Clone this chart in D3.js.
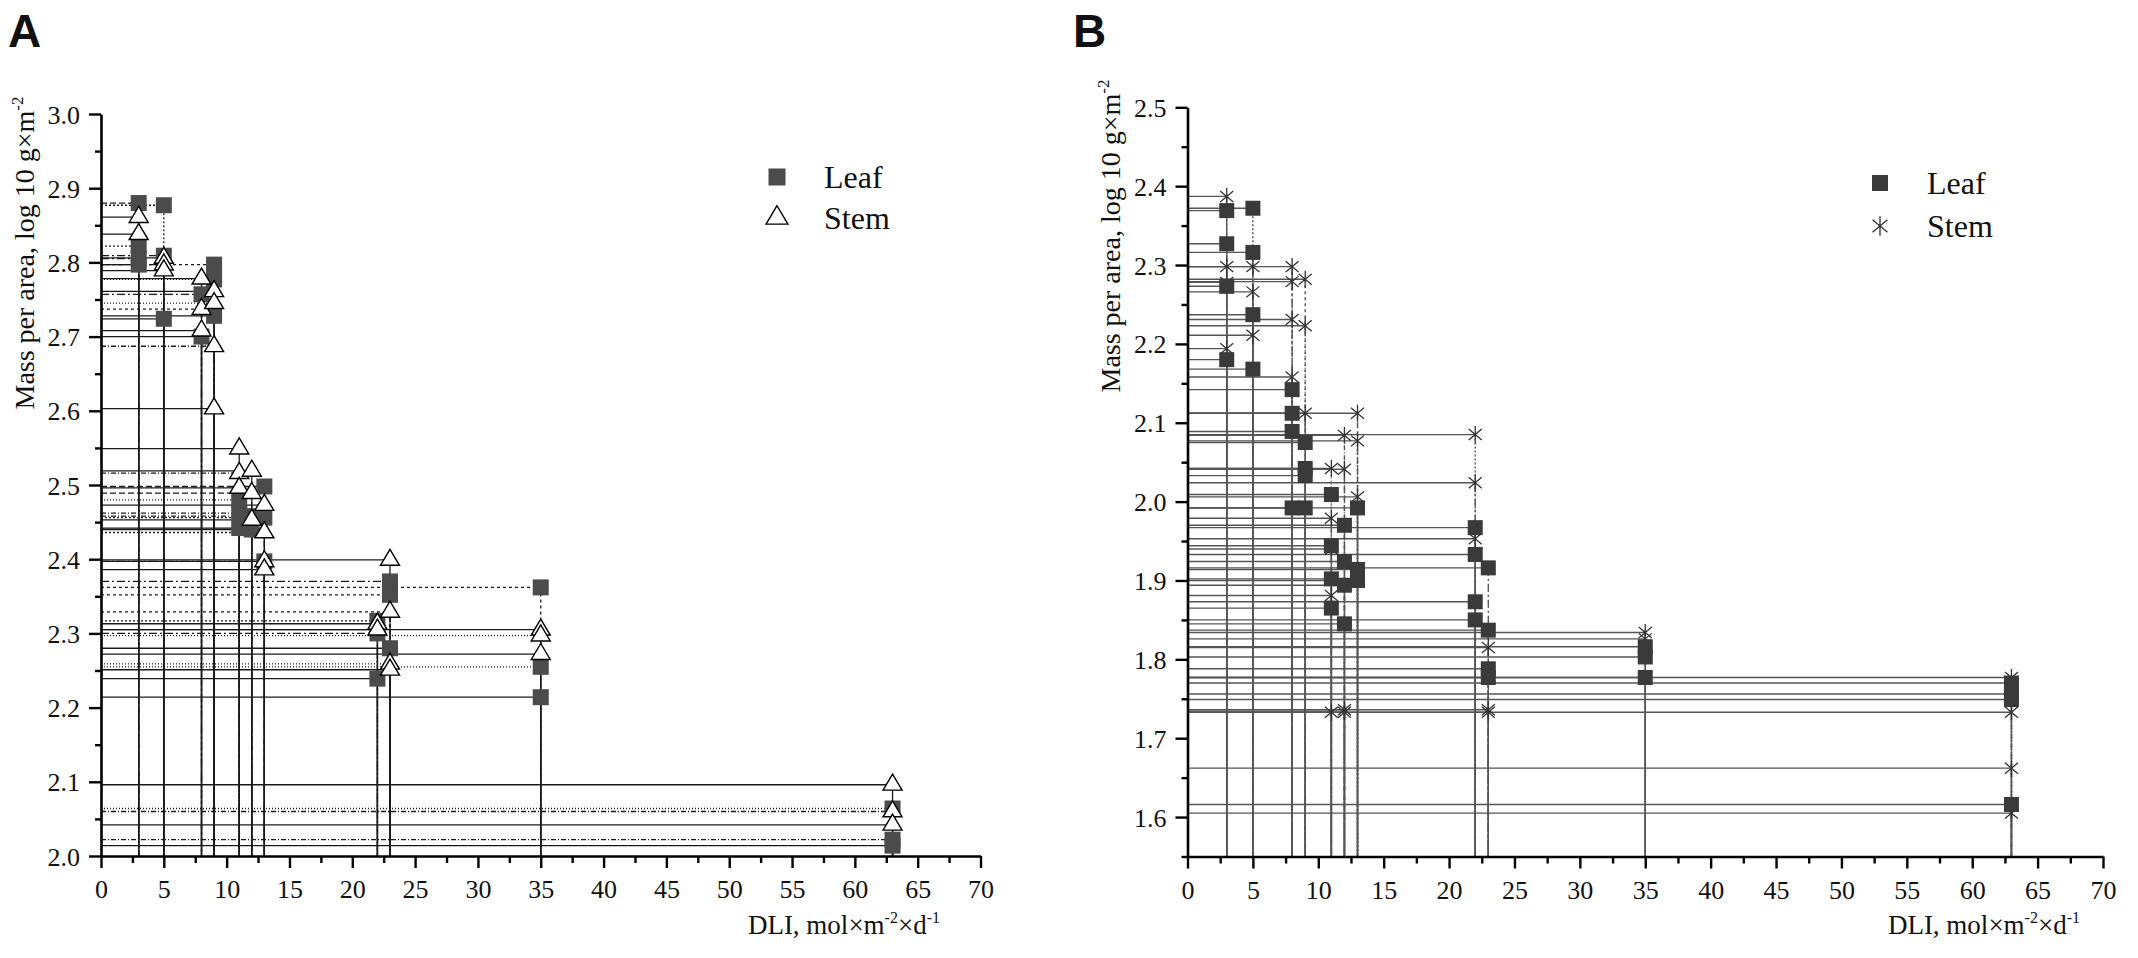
<!DOCTYPE html>
<html><head><meta charset="utf-8">
<script src="https://cdn.jsdelivr.net/npm/d3@7"></script>
<style>
body{margin:0;background:#fff}
svg{display:block}
text{font-family:"Liberation Serif","Times New Roman",serif;fill:#111}
</style>
</head><body>
<svg id="c" width="2138" height="958"></svg>
<script>
// ---------- data ----------
const dli = [3, 5, 8, 9, 11, 12, 13, 22, 23, 35, 63];
const xTickValues = d3.range(0, 71, 5);

// Panel A (log10 g/m2)
const leafA = [
  [2.880, 2.822, 2.805, 2.797],
  [2.877, 2.809, 2.724],
  [2.757, 2.700],
  [2.797, 2.777, 2.728],
  [2.480, 2.462, 2.442],
  [2.458, 2.440],
  [2.498, 2.456, 2.397],
  [2.317, 2.300, 2.239],
  [2.370, 2.352, 2.280],
  [2.362, 2.255, 2.214],
  [2.064, 2.022, 2.014]
];
const stemA = [
  [2.861, 2.838],
  [2.806, 2.797, 2.789],
  [2.778, 2.737, 2.708],
  [2.761, 2.745, 2.687, 2.603],
  [2.549, 2.516, 2.496],
  [2.519, 2.489, 2.453],
  [2.473, 2.436, 2.397, 2.386],
  [2.313, 2.305],
  [2.399, 2.329, 2.259, 2.251],
  [2.305, 2.297, 2.272],
  [2.096, 2.060, 2.042]
];
const yTicksA = [2.0, 2.1, 2.2, 2.3, 2.4, 2.5, 2.6, 2.7, 2.8, 2.9, 3.0];

// Panel B
const leafB = [
  [2.369, 2.327, 2.273, 2.180],
  [2.372, 2.316, 2.237, 2.168],
  [2.142, 2.112, 2.089, 1.992],
  [2.075, 2.042, 2.033, 1.992],
  [2.009, 1.944, 1.902, 1.865],
  [1.970, 1.924, 1.894, 1.845],
  [1.992, 1.914, 1.900],
  [1.967, 1.933, 1.873, 1.850],
  [1.916, 1.837, 1.788, 1.777],
  [1.816, 1.803, 1.777],
  [1.770, 1.756, 1.749, 1.616]
];
const stemB = [
  [2.387, 2.298, 2.278, 2.194],
  [2.298, 2.266, 2.211],
  [2.298, 2.279, 2.231, 2.158],
  [2.282, 2.223, 2.112],
  [2.042, 1.979, 1.940, 1.881, 1.733],
  [2.084, 2.041, 1.736, 1.733],
  [2.112, 2.077, 2.006],
  [2.085, 2.024, 1.953],
  [1.815, 1.736, 1.733],
  [1.834, 1.826],
  [1.777, 1.733, 1.662, 1.605]
];
const yTicksB = [1.6, 1.7, 1.8, 1.9, 2.0, 2.1, 2.2, 2.3, 2.4, 2.5];

const seriesNames = ["Leaf", "Stem"];
const yLabel = "Mass per area, log 10 g\u00D7m";
const xLabel = ["DLI, mol\u00D7m", "-2", "\u00D7d", "-1"];

// ---------- drawing ----------
const svg = d3.select("#c");
const dashCycle = ["6,3", "2,2", "8,3,2,3", "3,3", "1,2", "5,2,1,2"];

function flatten(groups, topSolid) {
  const out = [];
  groups.forEach((g, i) => {
    const sorted = g.slice().sort((a, b) => b - a);
    sorted.forEach((v, k) => {
      const solid = k === sorted.length - 1 || (topSolid && k === 0);
      out.push({x: dli[i], y: v, dash: solid ? null : dashCycle[(i + k) % dashCycle.length]});
    });
  });
  return out;
}

function panel(c) {
  const x = d3.scaleLinear().domain([0, 70]).range([c.x0, c.x1]);
  const y = d3.scaleLinear().domain(c.yDomain).range([c.y0, c.y1]);
  const g = svg.append("g");

  svg.append("text").attr("x", c.letterX).attr("y", 47)
    .style("font-family", "'Liberation Sans',Arial,sans-serif").style("font-weight", "bold")
    .style("font-size", "46px").text(c.letter);

  const leaf = flatten(c.leaf, false), stem = flatten(c.stem, c.stemTopSolid);
  const lines = g.append("g").attr("fill", "none");
  [leaf, stem].forEach(pts => {
    pts.forEach(p => {
      lines.append("line")
        .attr("x1", x(0)).attr("x2", x(p.x)).attr("y1", y(p.y)).attr("y2", y(p.y))
        .attr("stroke", c.lineColor).attr("stroke-width", c.lineW)
        .attr("stroke-dasharray", c.hDashed ? p.dash : null);
      lines.append("line")
        .attr("x1", x(p.x)).attr("x2", x(p.x)).attr("y1", y(p.y)).attr("y2", y(c.yDomain[0]))
        .attr("stroke", c.lineColor).attr("stroke-width", c.lineW)
        .attr("stroke-dasharray", p.dash);
    });
  });

  function drawLeaf(sel, px, py, s) {
    const sz = s || c.sq;
    sel.append("rect").attr("x", px - sz / 2).attr("y", py - sz / 2)
      .attr("width", sz).attr("height", sz).attr("fill", c.sqColor);
  }
  function drawStem(sel, px, py, k) {
    const f = k || 1;
    if (c.stemMarker === "triangle") {
      const w = 19 * f, h = 16 * f;
      sel.append("path")
        .attr("d", `M${px},${py - h * 2 / 3}L${px + w / 2},${py + h / 3}L${px - w / 2},${py + h / 3}Z`)
        .attr("fill", "#fff").attr("stroke", "#000").attr("stroke-width", 1.4);
    } else {
      const r = 8.5 * f, a = 40 * Math.PI / 180;
      const dx = r * Math.cos(a), dy = r * Math.sin(a);
      sel.append("path")
        .attr("d", `M${px},${py - r}L${px},${py + r}M${px - dx},${py - dy}L${px + dx},${py + dy}M${px - dx},${py + dy}L${px + dx},${py - dy}`)
        .attr("stroke", "#333").attr("stroke-width", 1.3).attr("fill", "none");
    }
  }

  const marks = g.append("g");
  const order = c.stemFirst ? [["stem", stem], ["leaf", leaf]] : [["leaf", leaf], ["stem", stem]];
  order.forEach(([name, pts]) => {
    pts.forEach(p => (name === "leaf" ? drawLeaf : drawStem)(marks, x(p.x), y(p.y)));
  });

  // axes
  const xMinor = d3.range(2.5, 70, 5);
  const gx = g.append("g").attr("transform", `translate(0,${c.y0})`);
  gx.call(d3.axisBottom(x).tickValues(xTickValues).tickSize(12).tickSizeOuter(0).tickFormat(d3.format("d")));
  gx.append("g").call(d3.axisBottom(x).tickValues(xMinor).tickSize(7).tickSizeOuter(0).tickFormat(""))
    .select(".domain").remove();
  gx.selectAll("text").attr("y", 42).attr("dy", 0)
    .style("font-family", "'Liberation Serif',serif").style("font-size", "26px").attr("fill", "#111");

  const yMinor = c.yTicks.map(v => +(v - 0.05).toFixed(2)).filter(v => v >= c.yDomain[0] - 1e-9);
  const gy = g.append("g").attr("transform", `translate(${c.x0},0)`);
  gy.call(d3.axisLeft(y).tickValues(c.yTicks).tickSize(12).tickSizeOuter(0).tickFormat(d3.format(".1f")));
  gy.append("g").call(d3.axisLeft(y).tickValues(yMinor).tickSize(6).tickSizeOuter(0).tickFormat(""))
    .select(".domain").remove();
  gy.selectAll("text").attr("x", -21).attr("dy", "0.35em")
    .style("font-family", "'Liberation Serif',serif").style("font-size", "26px").attr("fill", "#111");

  [gx, gy].forEach(a => {
    a.selectAll(".domain").attr("stroke", "#000").attr("stroke-width", 2.6);
    a.selectAll(".tick line").attr("stroke", "#000").attr("stroke-width", 2.4);
  });

  // axis titles
  const yt = svg.append("text")
    .attr("transform", `translate(${c.yLabelX},${c.yLabelY}) rotate(-90)`)
    .attr("text-anchor", "middle").style("font-size", "28px");
  yt.append("tspan").text(yLabel);
  yt.append("tspan").attr("dy", -11).style("font-size", "17px").text("-2");

  const xt = svg.append("text").attr("x", c.xLabelX).attr("y", 934)
    .attr("text-anchor", "end").style("font-size", "27px");
  xt.append("tspan").text(xLabel[0]);
  xt.append("tspan").attr("dy", -11).style("font-size", "16px").text(xLabel[1]);
  xt.append("tspan").attr("dy", 11).text(xLabel[2]);
  xt.append("tspan").attr("dy", -11).style("font-size", "16px").text(xLabel[3]);

  // legend
  const lg = svg.append("g");
  drawLeaf(lg, c.legX, c.legY, c.sq + 1);
  drawStem(lg, c.legX, c.legY + c.legGap, 1.15);
  seriesNames.forEach((n, i) => {
    lg.append("text").attr("x", c.legX + 47).attr("y", c.legY + i * c.legGap + 11)
      .style("font-size", "32px").text(n);
  });
}

panel({
  letter: "A", letterX: 8,
  x0: 101, x1: 980.5, y0: 856, y1: 114, yDomain: [2.0, 3.0], yTicks: yTicksA,
  leaf: leafA, stem: stemA, stemMarker: "triangle", stemFirst: false, stemTopSolid: true,
  lineColor: "#1a1a1a", lineW: 1.3, hDashed: true, sq: 16, sqColor: "#4b4b4b",
  yLabelX: 34, yLabelY: 253, xLabelX: 940,
  legX: 777, legY: 177, legGap: 41
});

panel({
  letter: "B", letterX: 1073,
  x0: 1187.5, x1: 2103, y0: 856.5, y1: 107.3, yDomain: [1.55, 2.5], yTicks: yTicksB,
  leaf: leafB, stem: stemB, stemMarker: "star", stemFirst: true, stemTopSolid: false,
  lineColor: "#555", lineW: 1.4, hDashed: false, sq: 15, sqColor: "#3a3a3a",
  yLabelX: 1120, yLabelY: 236, xLabelX: 2080,
  legX: 1880, legY: 183, legGap: 43
});
</script>
</body></html>
